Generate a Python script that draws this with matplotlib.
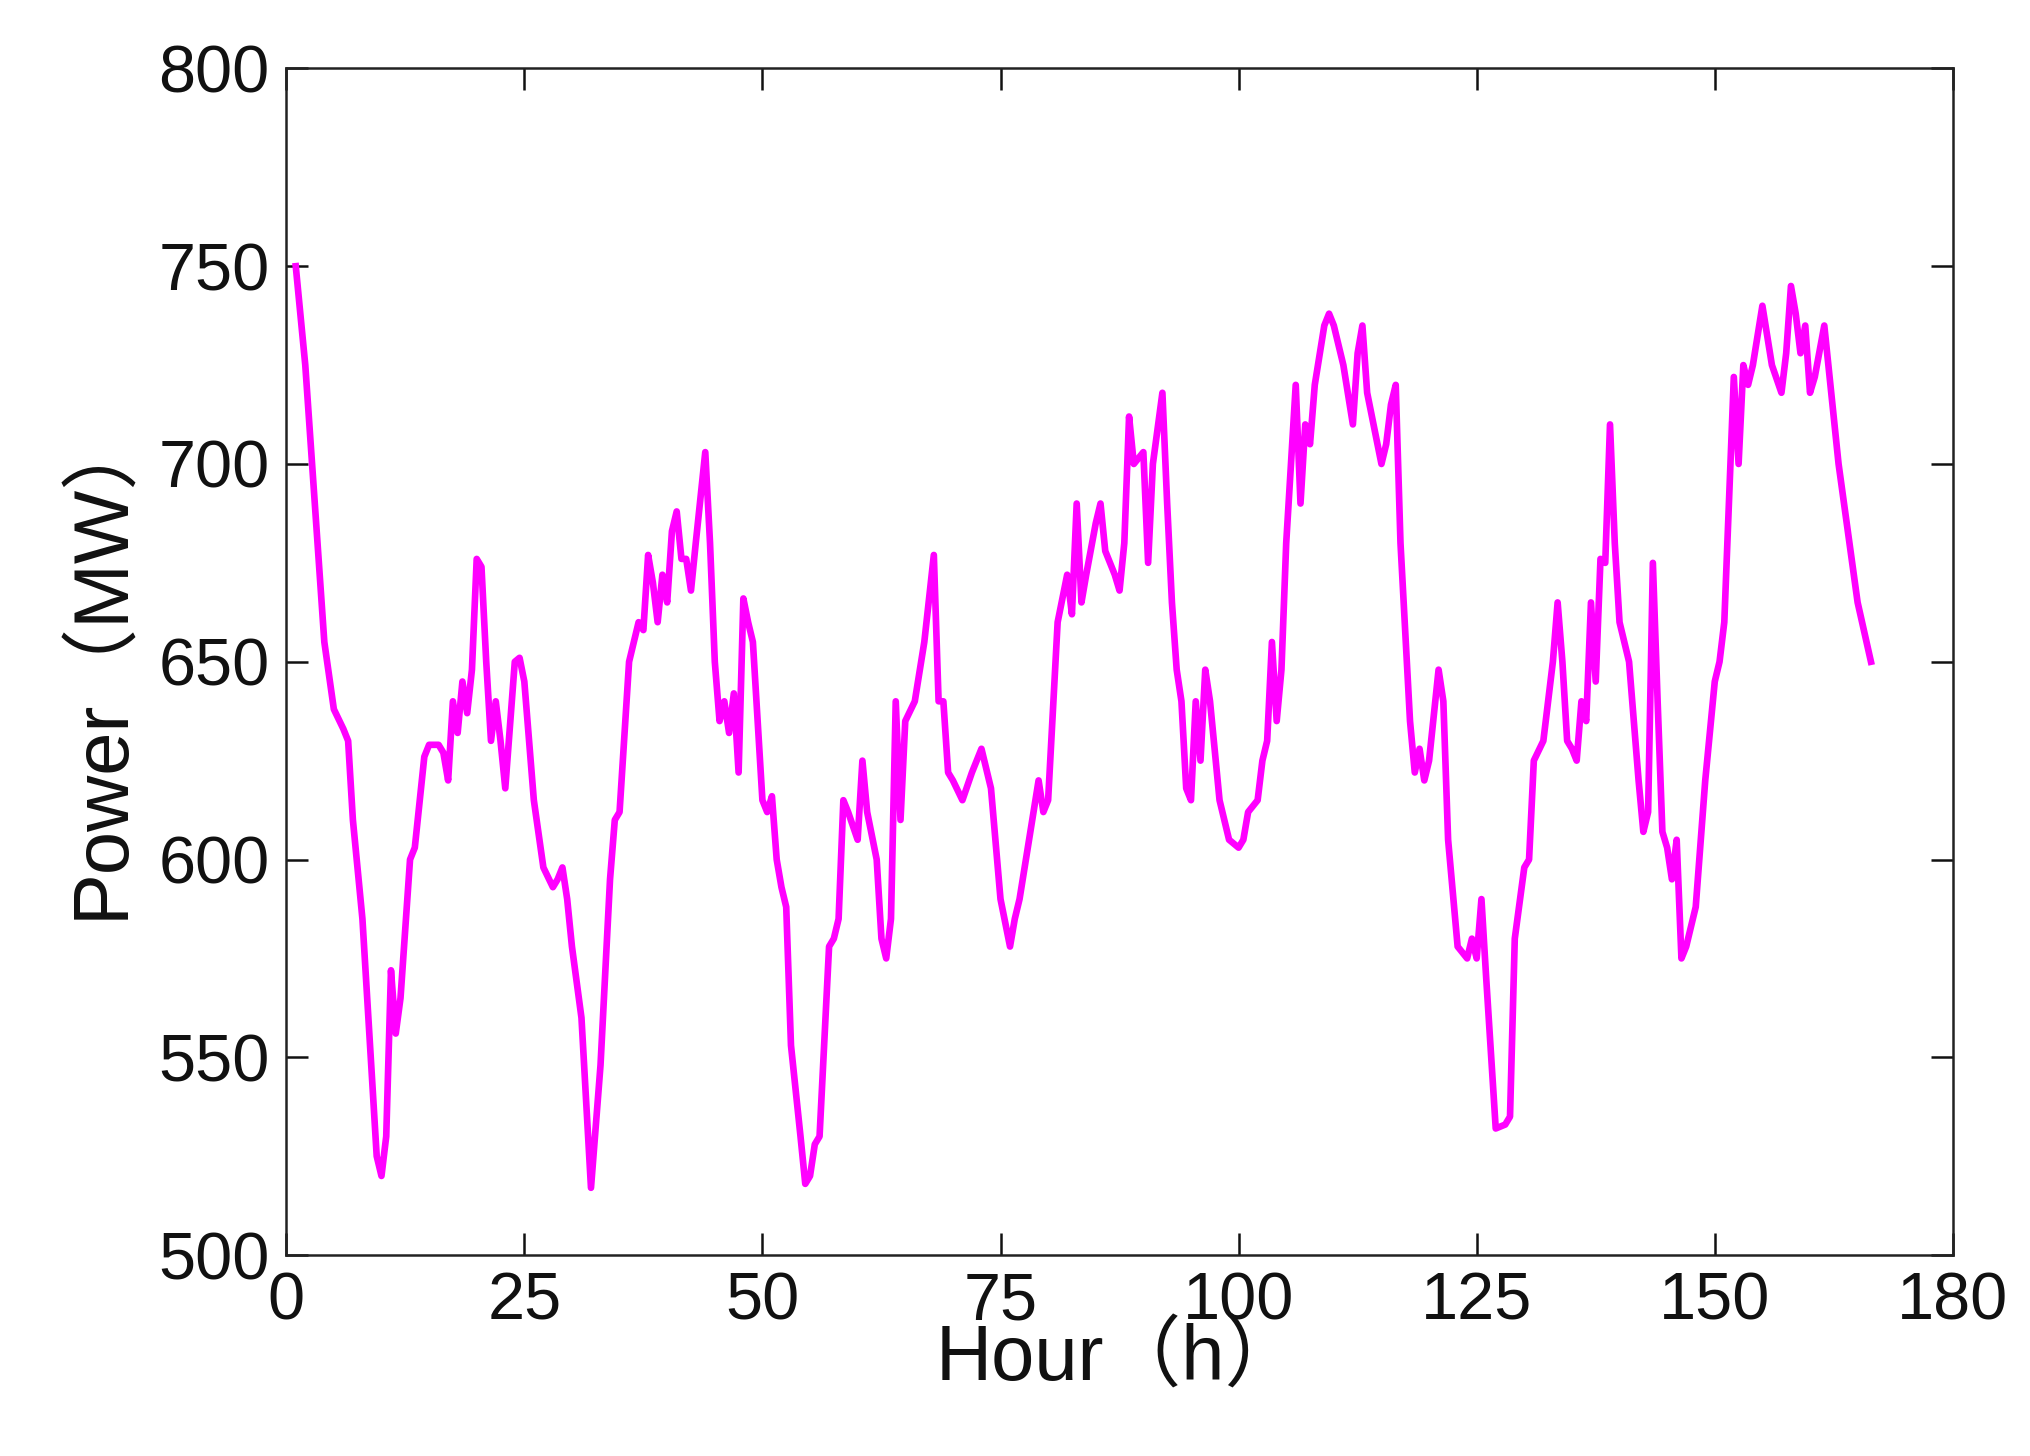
import matplotlib
matplotlib.use("Agg")
import matplotlib.pyplot as plt

plt.rcParams['font.family'] = ['Liberation Sans', 'Noto Sans CJK SC']

# hourly load
hours = [1, 2, 3, 4, 5, 6, 6.5, 7, 8, 9, 9.5, 10, 10.5, 11, 11.5, 12, 13, 13.5, 14.5, 15, 16,
         16.5, 17, 17.5, 18, 18.5, 19, 19.5, 20, 20.5, 21, 21.5, 22, 22.5, 23, 24, 24.5, 25, 26, 27, 28,
         28.5, 29, 29.5, 30, 31, 32, 33, 34, 34.5, 35, 36, 37, 37.5, 38, 38.5, 39, 39.5, 40, 40.5, 41,
         41.5, 42, 42.5, 43, 44, 44.5, 45, 45.5, 46, 46.5, 47, 47.5, 48, 48.5, 49, 50, 50.5, 51, 51.5, 52,
         52.5, 53, 54, 54.5, 55, 55.5, 56, 57, 57.5, 58, 58.5, 59, 60, 60.5, 61, 62, 62.5, 63, 63.5, 64,
         64.5, 65, 66, 67, 68, 68.5, 69, 69.5, 70, 71, 72, 73, 74, 75, 76, 76.5, 77, 78, 79, 79.5,
         80, 81, 82, 82.5, 83, 83.5, 84, 85, 85.5, 86, 87, 87.5, 88, 88.5, 89, 90, 90.5, 91, 92, 92.5,
         93, 93.5, 94, 94.5, 95, 95.5, 96, 96.5, 97, 98, 99, 100, 100.5, 101, 102, 102.5, 103, 103.5, 104, 104.5,
         105, 106, 106.5, 107, 107.5, 108, 109, 109.5, 110, 111, 112, 112.5, 113, 113.5, 114, 115, 115.5, 116, 116.5, 117,
         118, 118.5, 119, 119.5, 120, 121, 121.5, 122, 123, 124, 124.5, 125, 125.5, 126, 127, 128, 128.5, 129, 130, 130.5,
         131, 132, 133, 133.5, 134, 134.5, 135, 135.5, 136, 136.5, 137, 137.5, 138, 138.5, 139, 139.5, 140, 141, 142, 142.5,
         143, 143.5, 144, 144.5, 145, 145.5, 146, 146.5, 147, 148, 149, 150, 150.5, 151, 152, 152.5, 153, 153.5, 154, 155,
         156, 157, 157.5, 158, 158.5, 159, 159.5, 160, 160.5, 161.5, 163, 165, 166.4]
power = [750, 725, 690, 655, 638, 633, 630, 610, 585, 545, 525, 520, 530, 572, 556, 565, 600, 603, 626, 629, 629,
         627, 620, 640, 632, 645, 637, 648, 676, 674, 650, 630, 640, 630, 618, 650, 651, 645, 615, 598, 593,
         595, 598, 590, 578, 560, 517, 548, 595, 610, 612, 650, 660, 658, 677, 670, 660, 672, 665, 683, 688,
         676, 676, 668, 680, 703, 680, 650, 635, 640, 632, 642, 622, 666, 660, 655, 615, 612, 616, 600, 593,
         588, 553, 530, 518, 520, 528, 530, 578, 580, 585, 615, 612, 605, 625, 612, 600, 580, 575, 585, 640,
         610, 635, 640, 655, 677, 640, 640, 622, 620, 615, 622, 628, 618, 590, 578, 585, 590, 605, 620, 612,
         615, 660, 672, 662, 690, 665, 672, 685, 690, 678, 672, 668, 680, 712, 700, 703, 675, 700, 718, 690,
         665, 648, 640, 618, 615, 640, 625, 648, 640, 615, 605, 603, 605, 612, 615, 625, 630, 655, 635, 648,
         680, 720, 690, 710, 705, 720, 735, 738, 735, 725, 710, 728, 735, 718, 712, 700, 705, 715, 720, 680,
         635, 622, 628, 620, 625, 648, 640, 605, 578, 575, 580, 575, 590, 570, 532, 533, 535, 580, 598, 600,
         625, 630, 650, 665, 650, 630, 628, 625, 640, 635, 665, 645, 676, 675, 710, 680, 660, 650, 620, 607,
         612, 675, 640, 607, 603, 595, 605, 575, 578, 588, 620, 645, 650, 660, 722, 700, 725, 720, 725, 740,
         725, 718, 728, 745, 738, 728, 735, 718, 722, 735, 700, 665, 650]

x_ticks = [0, 25, 50, 75, 100, 125, 150, 175]
x_tick_labels = ['0', '25', '50', '75', '100', '125', '150', '180']
y_ticks = [500, 550, 600, 650, 700, 750, 800]

fig = plt.figure(figsize=(20.3, 14.56), dpi=100)
ax = fig.add_axes([0.141, 0.138, 0.821, 0.815])
ax.plot(hours, power, color='#ff00ff', lw=4.8)

ax.set_xlim(0, 175)
ax.set_ylim(500, 800)
ax.set_xticks(x_ticks)
ax.set_xticklabels(x_tick_labels)
ax.set_yticks(y_ticks)
ax.tick_params(direction='in', length=16, width=1.8, top=True, right=True,
               labelsize=48, pad=12, colors='#111111')
for s in ax.spines.values():
    s.set_linewidth(1.8)
    s.set_color('#222222')

ax.set_xlabel('Hour（h）', fontsize=56, labelpad=-8, color='#111111')
ax.set_ylabel('Power（MW）', fontsize=56, labelpad=14, color='#111111')

fig.savefig('out.png', dpi=100, facecolor='white')
